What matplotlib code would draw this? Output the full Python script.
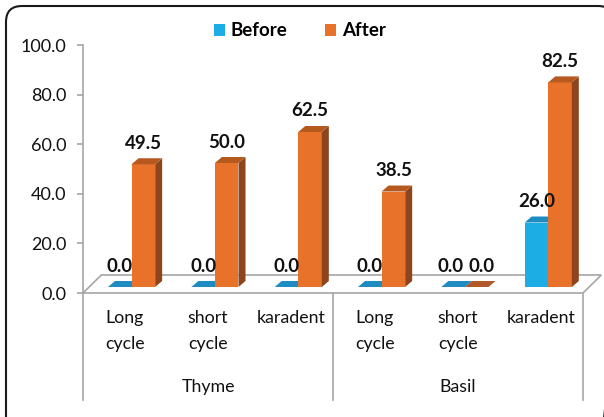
import matplotlib
matplotlib.use("Agg")
import matplotlib.pyplot as plt
from matplotlib.patches import Polygon, FancyBboxPatch, Patch
from matplotlib.ticker import FuncFormatter

plt.rcParams['font.family'] = ['Lato', 'DejaVu Sans']

# chart data
groups = ["Thyme", "Basil"]
categories = ["Long\ncycle", "short\ncycle", "karadent",
              "Long\ncycle", "short\ncycle", "karadent"]
before = [0.0, 0.0, 0.0, 0.0, 0.0, 26.0]
after = [49.5, 50.0, 62.5, 38.5, 0.0, 82.5]

BLUE = "#1BADE3"
BLUE_TOP = "#1E8CC0"
ORANGE = "#E8722A"
ORANGE_TOP = "#B5591F"
ORANGE_SIDE = "#8C451C"
GRID = "#A6A6A6"

W, H = 604, 417
fig = plt.figure(figsize=(W / 100, H / 100), dpi=100)

# overlay in pixel coords for the rounded chart border (runs off the right/bottom)
deco = fig.add_axes([0, 0, 1, 1])
deco.set_xlim(0, W)
deco.set_ylim(H, 0)
deco.axis("off")
deco.add_patch(FancyBboxPatch((6, 6), 608, 430,
                              boxstyle="round,pad=0,rounding_size=16",
                              fc="none", ec="#1a1a1a", lw=1.5, clip_on=False))

# main axes: x = category slots, y = value; 0 at y=293px, 100 at y=45px
ax = fig.add_axes([83 / W, (H - 293) / H, 500 / W, 248 / H])
ax.set_facecolor("none")
ax.set_xlim(0, 6)
ax.set_ylim(0, 100)
px_x = 500 / 6
px_y = 248 / 100

for s in ["top", "right", "bottom"]:
    ax.spines[s].set_visible(False)
ax.spines["left"].set_color(GRID)
ax.spines["left"].set_linewidth(1.2)
ax.set_xticks([])
ax.set_yticks(range(0, 101, 20))
ax.yaxis.set_major_formatter(FuncFormatter(lambda v, p: f"{v:.1f}"))
ax.tick_params(axis="y", length=4, width=1.2, color=GRID, pad=8,
               labelsize=13, labelcolor="#111111")

# 3D floor
fdx, fdy = 0.22, 18 / px_y
floor = Polygon([(0, 0), (6, 0), (6 + fdx, fdy), (fdx, fdy)], closed=True,
                fc="white", ec=GRID, lw=1.2, clip_on=False, zorder=1)
ax.add_patch(floor)

# separators below the floor
for x in [0, 3, 6]:
    ax.plot([x, x], [0, -43], color=GRID, lw=1.2, clip_on=False, zorder=1)

base = 6 / px_y          # bars sit a little back on the floor
bw = 0.283               # bar width in slot units
ddx, ddy = 7 / px_x, 6 / px_y


def bar3d(x0, v, front, top, side, shift=0.0):
    x1 = x0 + bw
    h = base + v
    if v > 0:
        ax.add_patch(Polygon([(x0, base), (x1, base), (x1, h), (x0, h)],
                             fc=front, ec="none", clip_on=False, zorder=3))
        ax.add_patch(Polygon([(x1, base), (x1 + ddx, base + ddy),
                              (x1 + ddx, h + ddy), (x1, h)],
                             fc=side, ec="none", clip_on=False, zorder=3))
    ax.add_patch(Polygon([(x0, h), (x1, h), (x1 + ddx, h + ddy), (x0 + ddx, h + ddy)],
                         fc=top, ec="none", clip_on=False, zorder=3))
    ax.text(x0 + bw / 2 + shift, h + 21 / px_y, f"{v:.1f}", ha="center", va="center",
            fontsize=13.5, fontweight="bold", color="#111111", zorder=5)


for i in range(len(categories)):
    xb = i + 0.30
    # two zero labels side by side need a little room
    spread = 0.06 if before[i] == 0 and after[i] == 0 else 0.0
    bar3d(xb, before[i], BLUE, BLUE_TOP, BLUE_TOP, -spread / 2)
    bar3d(xb + bw, after[i], ORANGE, ORANGE_TOP if after[i] > 0 else "#B0582A",
          ORANGE_SIDE, spread)
    ax.text(i + 0.5, -7.0, categories[i], ha="center", va="top",
            fontsize=12.8, color="#111111", linespacing=1.75)

for g, name in enumerate(groups):
    ax.text(g * 3 + 1.5, -38, name, ha="center", va="center",
            fontsize=12.8, color="#111111")

# legend at the top
handles = [Patch(fc=BLUE, ec="none", label="Before"),
           Patch(fc=ORANGE, ec="none", label="After")]
leg = fig.legend(handles=handles, loc="center", ncol=2, frameon=False,
                 bbox_to_anchor=(300 / W, 1 - 31 / H), fontsize=13.5,
                 handlelength=0.6, handleheight=0.6, handletextpad=0.3,
                 columnspacing=2.0)
for t in leg.get_texts():
    t.set_fontweight("bold")

fig.savefig("out.png", dpi=100)
